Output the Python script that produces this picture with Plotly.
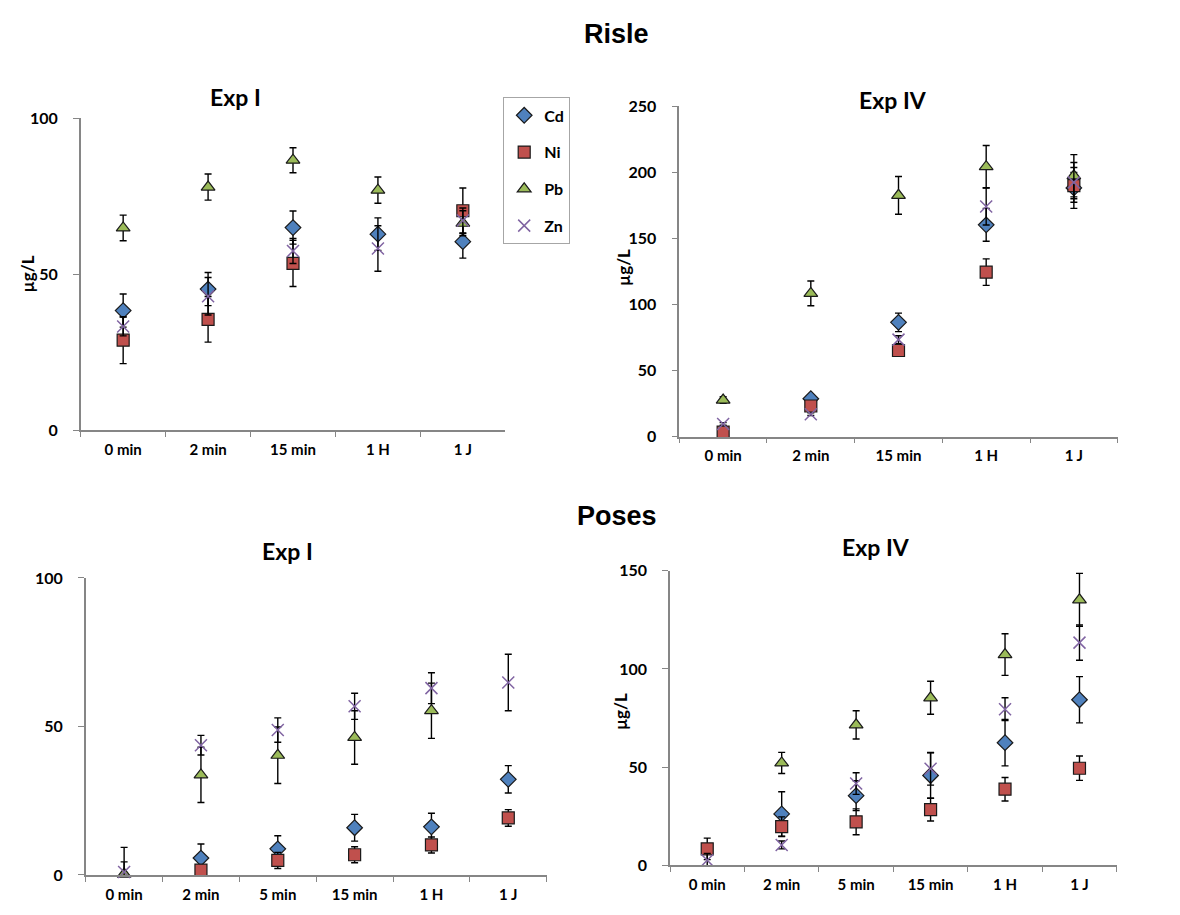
import plotly.graph_objects as go

# ---------------- data ----------------
cats_risle = ["0 min", "2 min", "15 min", "1 H", "1 J"]
cats_poses = ["0 min", "2 min", "5 min", "15 min", "1 H", "1 J"]

# Risle, Exp I  (µg/L, mean and error)
r1_cd = [38.4, 45.3, 65.0, 62.9, 60.5]
r1_cd_err = [5.3, 5.3, 5.3, 5.2, 5.3]
r1_ni = [28.9, 35.6, 53.5, None, 70.4]
r1_ni_err = [7.5, 7.3, 7.4, 0, 7.3]
r1_pb = [64.9, 78.0, 86.6, 77.0, 66.4]
r1_pb_err = [4.1, 4.2, 4.0, 4.2, 4.0]
r1_zn = [33.3, 43.0, 57.5, 58.3, 67.3]
r1_zn_err = [3.0, 6.0, 4.0, 7.3, 4.0]

# Risle, Exp IV
r4_cd = [None, 28.7, 86.5, 160.3, 188.2]
r4_cd_err = [0, 2.0, 7.0, 12.4, 15.5]
r4_ni = [3.5, 23.2, 65.2, 124.5, 190.0]
r4_ni_err = [1.0, 2.0, 4.0, 10.0, 10.0]
r4_pb = [27.7, 108.4, 182.6, 204.3, 197.4]
r4_pb_err = [2.5, 9.4, 14.3, 16.0, 16.0]
r4_zn = [9.6, 17.0, 73.4, 174.2, 192.4]
r4_zn_err = [1.0, 1.0, 3.0, 14.0, 15.0]

# Poses, Exp I
p1_cd = [None, 5.7, 8.8, 15.9, 16.2, 32.2]
p1_cd_err = [0, 4.7, 4.4, 4.5, 4.6, 4.6]
p1_ni = [None, 1.6, 4.9, 6.8, 10.1, 19.2]
p1_ni_err = [0, 1.0, 2.7, 2.7, 2.7, 2.8]
p1_pb = [0.3, 33.7, 40.3, 46.3, 55.3, None]
p1_pb_err = [4.1, 9.3, 9.5, 9.0, 9.3, 0]
p1_zn = [1.0, 43.7, 48.8, 56.8, 62.9, 64.8]
p1_zn_err = [8.3, 3.3, 4.1, 4.4, 5.2, 9.5]

# Poses, Exp IV
p4_cd = [None, 26.1, 35.4, 45.7, 62.4, 84.3]
p4_cd_err = [0, 11.3, 7.6, 11.6, 11.8, 11.8]
p4_ni = [8.3, 19.6, 22.1, 28.3, 38.7, 49.4]
p4_ni_err = [5.5, 5.0, 6.6, 5.8, 6.0, 6.2]
p4_pb = [None, 52.1, 71.5, 85.3, 107.3, 135.2]
p4_pb_err = [0, 5.4, 7.2, 8.4, 10.6, 13.5]
p4_zn = [2.5, 10.3, 41.6, 49.1, 79.5, 113.4]
p4_zn_err = [3.5, 2.0, 5.5, 8.3, 5.8, 9.0]

W, H = 1180, 915
FONT = "Lato"
AXIS_GREY = "#868686"

styles = {
    "Cd": dict(symbol="diamond", size=12, color="#4F81BD", line=dict(color="#1a1a1a", width=1.2)),
    "Ni": dict(symbol="square", size=12, color="#C0504D", line=dict(color="#1a1a1a", width=1.2)),
    "Pb": dict(symbol="triangle-up", size=12, color="#9BBB59", line=dict(color="#1a1a1a", width=1.2)),
    "Zn": dict(symbol="x-thin-open", size=12, color="#8064A2", line=dict(color="#8064A2", width=1.5)),
}

panels = [
    # (axis suffix, categories, series, x px range, y px range (top, bottom), y max, y ticks)
    ("", cats_risle,
     {"Cd": (r1_cd, r1_cd_err), "Ni": (r1_ni, r1_ni_err), "Pb": (r1_pb, r1_pb_err), "Zn": (r1_zn, r1_zn_err)},
     (80.7, 505.3), (110.7, 429.3), 100, [0, 50, 100]),
    ("2", cats_risle,
     {"Cd": (r4_cd, r4_cd_err), "Ni": (r4_ni, r4_ni_err), "Pb": (r4_pb, r4_pb_err), "Zn": (r4_zn, r4_zn_err)},
     (679.3, 1117.7), (98.3, 435.7), 250, [0, 50, 100, 150, 200, 250]),
    ("3", cats_poses,
     {"Cd": (p1_cd, p1_cd_err), "Ni": (p1_ni, p1_ni_err), "Pb": (p1_pb, p1_pb_err), "Zn": (p1_zn, p1_zn_err)},
     (85.7, 546.7), (580.0, 883.3), 100, [0, 50, 100]),
    ("4", cats_poses,
     {"Cd": (p4_cd, p4_cd_err), "Ni": (p4_ni, p4_ni_err), "Pb": (p4_pb, p4_pb_err), "Zn": (p4_zn, p4_zn_err)},
     (670.0, 1116.7), (572.7, 873.3), 150, [0, 50, 100, 150]),
]

fig = go.Figure()
layout_axes = {}

for i, (sfx, cats, series, (x0, x1), (ytop, ybot), ymax, yticks) in enumerate(panels):
    for name in ["Cd", "Ni", "Pb", "Zn"]:
        vals, errs = series[name]
        st = styles[name]
        fig.add_trace(go.Scatter(
            x=cats, y=vals, mode="markers", name=name,
            legendgroup=name, showlegend=(i == 0),
            xaxis="x" + sfx, yaxis="y" + sfx,
            marker=dict(symbol=st["symbol"], size=st["size"], color=st["color"], line=st["line"]),
            error_y=dict(type="data", array=errs, visible=True, color="black", thickness=1.4, width=3.5),
            cliponaxis=False,
        ))
    n = len(cats)
    layout_axes["xaxis" + sfx] = dict(
        domain=[x0 / W, x1 / W], anchor="y" + sfx, type="category",
        categoryorder="array", categoryarray=cats, range=[-0.5, n - 0.5],
        showline=True, linecolor=AXIS_GREY, linewidth=1.5,
        ticks="outside", tickson="boundaries", ticklen=5, tickcolor=AXIS_GREY, tickwidth=1.2,
        showgrid=False, zeroline=False, ticklabelstandoff=5,
        tickfont=dict(family=FONT, size=15, color="black", weight="bold"),
    )
    layout_axes["yaxis" + sfx] = dict(
        domain=[1 - ybot / H, 1 - ytop / H], anchor="x" + sfx, range=[0, ymax],
        tickvals=yticks, showline=True, linecolor=AXIS_GREY, linewidth=1.5,
        ticks="outside", ticklen=6, tickcolor=AXIS_GREY, tickwidth=1.2,
        showgrid=False, zeroline=False, ticklabelstandoff=12,
        tickfont=dict(family=FONT, size=16, color="black", weight="bold"),
    )

fig.update_layout(**layout_axes)

annotations = []
# group titles
for text, cx, cy in [("Risle", 616.7, 24), ("Poses", 616.7, 517)]:
    annotations.append(dict(text="<b>%s</b>" % text, x=cx / W, y=1 - cy / H, xref="paper", yref="paper",
                            showarrow=False, xanchor="center", yanchor="middle",
                            font=dict(family="Liberation Sans", size=27, color="black")))
# panel titles
for text, cx, cy in [("Exp I", 235, 89), ("Exp IV", 893, 92), ("Exp I", 287, 552), ("Exp IV", 876, 548)]:
    annotations.append(dict(text="<b>%s</b>" % text, x=cx / W, y=1 - cy / H, xref="paper", yref="paper",
                            showarrow=False, xanchor="center", yanchor="middle",
                            font=dict(family=FONT, size=23, color="black")))
# y-axis titles
for cx, cy in [(27, 270), (623.5, 263), (620, 717)]:
    annotations.append(dict(text="<b>µg/L</b>", x=cx / W, y=1 - cy / H, xref="paper", yref="paper",
                            showarrow=False, xanchor="center", yanchor="middle", textangle=-90,
                            font=dict(family=FONT, size=17, color="black")))

fig.update_layout(
    width=W, height=H, margin=dict(l=0, r=0, t=0, b=0),
    paper_bgcolor="white", plot_bgcolor="white",
    annotations=annotations,
    legend=dict(x=503 / W, y=1 - 89 / H, xanchor="left", yanchor="top",
                bordercolor="#A6A6A6", borderwidth=1.2, bgcolor="white",
                font=dict(family=FONT, size=16, color="black", weight="bold"),
                tracegroupgap=13, itemwidth=30),
)

fig.write_html("out.html")
